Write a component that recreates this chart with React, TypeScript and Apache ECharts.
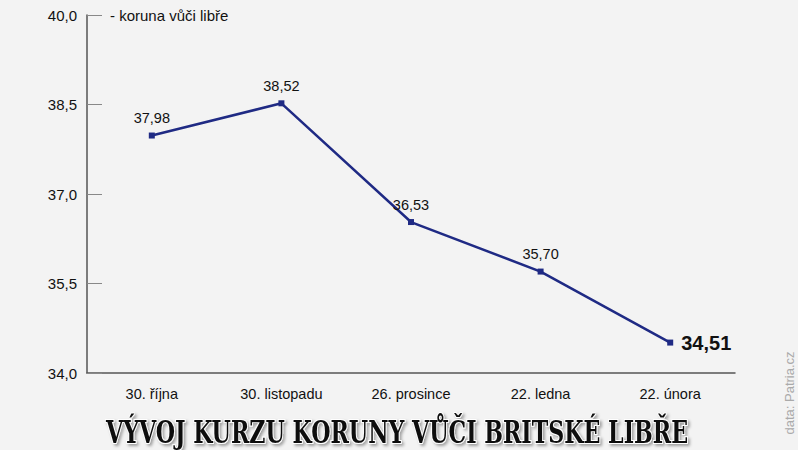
import React, { useEffect, useRef } from "react";
import * as echarts from "echarts";

const categories = ["30. října", "30. listopadu", "26. prosince", "22. ledna", "22. února"];
const values = [37.98, 38.52, 36.53, 35.7, 34.51];
const yTicks = [34.0, 35.5, 37.0, 38.5, 40.0];

const fmt = (v: number) => v.toFixed(2).replace(".", ",");

export default function App() {
  const ref = useRef<HTMLDivElement>(null);
  useEffect(() => {
    if (!ref.current) return;
    const chart = echarts.init(ref.current, null, { renderer: "svg" });
    const axisColor = "#555";
    chart.setOption({
      animation: false,
      backgroundColor: "#f3f3f3",
      textStyle: { fontFamily: "Liberation Sans, Arial, sans-serif" },
      grid: { left: 87, right: 63, top: 15, bottom: 77 },
      xAxis: {
        type: "category",
        data: categories,
        boundaryGap: true,
        axisLine: { lineStyle: { color: axisColor, width: 1.5 } },
        axisTick: { inside: true, length: 9, lineStyle: { color: axisColor, width: 1.5 } },
        axisLabel: { color: "#111", fontSize: 14.5, margin: 13 },
      },
      yAxis: {
        type: "value",
        min: yTicks[0],
        max: yTicks[yTicks.length - 1],
        interval: 1.5,
        axisLine: { show: true, lineStyle: { color: axisColor, width: 1.5 } },
        axisTick: { show: true, inside: true, length: 15, lineStyle: { color: "#888", width: 1 } },
        splitLine: { show: false },
        axisLabel: {
          color: "#111",
          fontSize: 15,
          margin: 10,
          formatter: (v: number) => v.toFixed(1).replace(".", ","),
        },
      },
      series: [
        {
          type: "line",
          data: values.map((v, i) =>
            i === values.length - 1
              ? {
                  value: v,
                  label: {
                    position: "right",
                    fontSize: 20,
                    fontWeight: "bold",
                    distance: 8,
                    color: "#111",
                  },
                }
              : v
          ),
          symbol: "rect",
          symbolSize: 6,
          lineStyle: { color: "#1f2a84", width: 2.5 },
          itemStyle: { color: "#1f2a84" },
          label: {
            show: true,
            position: "top",
            distance: 7,
            color: "#111",
            fontSize: 14.5,
            formatter: (p: any) => fmt(p.value),
          },
        },
      ],
      graphic: [
        {
          type: "text",
          left: 110,
          top: 8,
          style: {
            text: "- koruna vůči libře",
            fontSize: 15,
            fill: "#111",
            fontFamily: "Liberation Sans, Arial, sans-serif",
          },
        },
        {
          type: "text",
          x: 397,
          y: 432,
          scaleX: 0.77,
          style: {
            text: "VÝVOJ KURZU KORUNY VŮČI BRITSKÉ LIBŘE",
            fontSize: 32,
            fontWeight: "bold",
            fontFamily: "DejaVu Serif Condensed, DejaVu Serif, serif",
            fill: "#111",
            align: "center",
            verticalAlign: "middle",
            stroke: "#fff",
            lineWidth: 2,
            textShadowColor: "rgba(0,0,0,0.35)",
            textShadowBlur: 3,
            textShadowOffsetX: 2,
            textShadowOffsetY: 2,
          },
        },
        {
          type: "text",
          x: 789,
          y: 393,
          rotation: Math.PI / 2,
          style: {
            text: "data: Patria.cz",
            fontSize: 13,
            fill: "#aaa",
            align: "center",
            verticalAlign: "middle",
            fontFamily: "Liberation Sans, Arial, sans-serif",
          },
        },
      ],
    });
    return () => chart.dispose();
  }, []);
  return <div ref={ref} style={{ width: 798, height: 450, position: "absolute", left: 0, top: 0 }} />;
}
